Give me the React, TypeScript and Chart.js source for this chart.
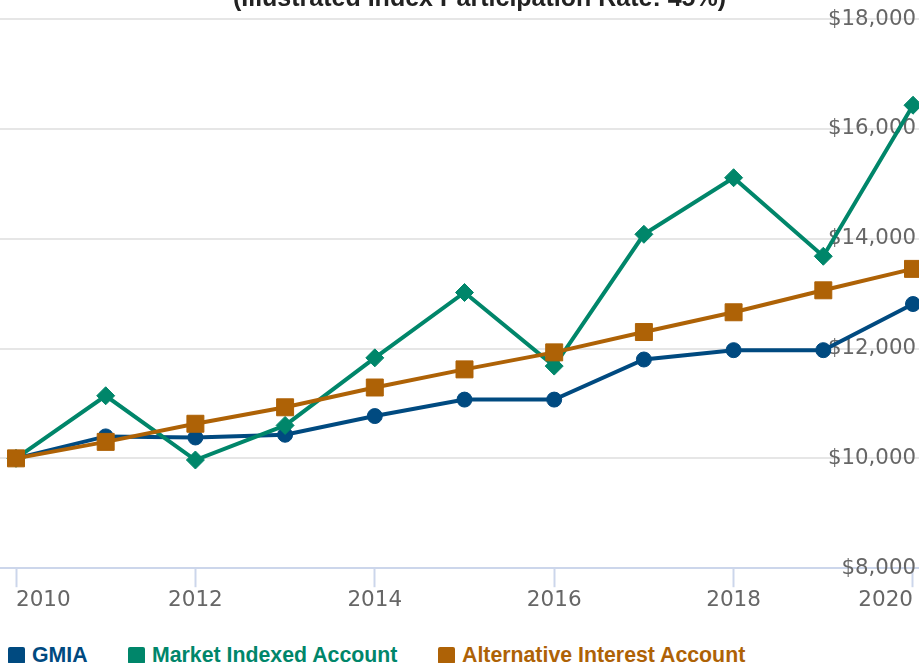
import React, { useEffect, useRef } from "react";
import { Chart, registerables } from "chart.js";

Chart.register(...registerables);

const years = [2010, 2011, 2012, 2013, 2014, 2015, 2016, 2017, 2018, 2019, 2020];
const gmiaValues = [10000, 10400, 10380, 10430, 10770, 11070, 11070, 11800, 11970, 11970, 12810];
const marketValues = [10000, 11140, 9970, 10600, 11830, 13020, 11680, 14080, 15110, 13680, 16430];
const altValues = [10000, 10300, 10630, 10930, 11290, 11620, 11930, 12300, 12660, 13060, 13450];
const xTickValues = [2010, 2012, 2014, 2016, 2018, 2020];
const yMin = 8000;
const yMax = 18000;
const yStep = 2000;
const seriesNames = ["GMIA", "Market Indexed Account", "Alternative Interest Account"];
const seriesColors = ["#004a80", "#00866a", "#ae6206"];
const seriesMarkers = ["circle", "rectRot", "rect"];
const titleText = "(Illustrated Index Participation Rate: 45%)";

const titlePlugin = {
  id: "cutTitle",
  afterDraw(chart: any) {
    const ctx = chart.ctx;
    ctx.save();
    ctx.font = 'bold 25px "Liberation Sans", Arial, sans-serif';
    ctx.fillStyle = "#222";
    ctx.textAlign = "center";
    ctx.textBaseline = "alphabetic";
    ctx.fillText(titleText, chart.width / 2 + 20, 6);
    ctx.restore();
  },
};

export default function App() {
  const ref = useRef<HTMLCanvasElement | null>(null);

  useEffect(() => {
    if (!ref.current) return;
    const series = [gmiaValues, marketValues, altValues];
    const radii = [7.5, 9, 12];
    const orders = [3, 2, 1];
    const chart = new Chart(ref.current, {
      type: "line",
      data: {
        datasets: series.map((vals, i) => ({
          label: seriesNames[i],
          data: years.map((y, j) => ({ x: y, y: vals[j] })),
          borderColor: seriesColors[i],
          backgroundColor: seriesColors[i],
          borderWidth: 4,
          pointStyle: seriesMarkers[i] as any,
          pointRadius: radii[i],
          pointBorderWidth: 1,
          pointBorderColor: seriesColors[i],
          pointBackgroundColor: seriesColors[i],
          tension: 0,
          clip: false as any,
          order: orders[i],
        })),
      },
      options: {
        animation: false,
        responsive: true,
        maintainAspectRatio: false,
        layout: { autoPadding: false, padding: { top: 19, bottom: 27, left: 0, right: 0 } },
        plugins: {
          legend: { display: false },
          tooltip: { enabled: false },
          title: { display: false },
        },
        scales: {
          x: {
            type: "linear",
            min: 2009.8216,
            max: 2020.0669,
            afterBuildTicks: (scale: any) => {
              scale.ticks = xTickValues.map((v) => ({ value: v }));
            },
            afterFit: (scale: any) => {
              scale.paddingLeft = 0;
              scale.paddingRight = 0;
            },
            ticks: {
              align: "inner",
              padding: 0,
              color: "#666",
              font: { family: '"DejaVu Sans", sans-serif', size: 21.5 },
              callback: (v: any) => String(v),
              maxRotation: 0,
              autoSkip: false,
            },
            grid: {
              drawOnChartArea: false,
              drawTicks: true,
              tickLength: 19,
              tickColor: "#ccd6eb",
              tickWidth: 2,
            },
            border: { display: true, color: "#ccd6eb", width: 2 },
          },
          y: {
            type: "linear",
            position: "right",
            min: yMin,
            max: yMax,
            afterFit: (scale: any) => {
              scale.width = 0;
            },
            ticks: {
              stepSize: yStep,
              mirror: true,
              padding: -3,
              color: "#666",
              font: { family: '"DejaVu Sans", sans-serif', size: 21.3 },
              callback: (v: any) => "$" + Number(v).toLocaleString("en-US"),
            },
            grid: {
              color: "#e6e6e6",
              lineWidth: 2,
              drawTicks: false,
            },
            border: { display: false },
          },
        },
      },
      plugins: [titlePlugin],
    });
    return () => chart.destroy();
  }, []);

  const legendLefts = [8, 128, 438];

  return (
    <div style={{ position: "fixed", left: 0, top: 0, width: 919, height: 663, overflow: "hidden", background: "#fff" }}>
      <div style={{ position: "absolute", left: 0, top: 0, width: 919, height: 640 }}>
        <canvas ref={ref} />
      </div>
      {seriesNames.map((name, i) => (
        <div
          key={name}
          style={{
            position: "absolute",
            left: legendLefts[i],
            top: 643,
            height: 24,
            display: "flex",
            alignItems: "center",
            whiteSpace: "nowrap",
            fontFamily: '"Liberation Sans", Arial, sans-serif',
            fontWeight: "bold",
            fontSize: 21.3,
            lineHeight: "24px",
            color: seriesColors[i],
          }}
        >
          <span style={{ display: "inline-block", width: 17, height: 17, borderRadius: 2, background: seriesColors[i], marginRight: 7 }} />
          <span>{name}</span>
        </div>
      ))}
    </div>
  );
}
